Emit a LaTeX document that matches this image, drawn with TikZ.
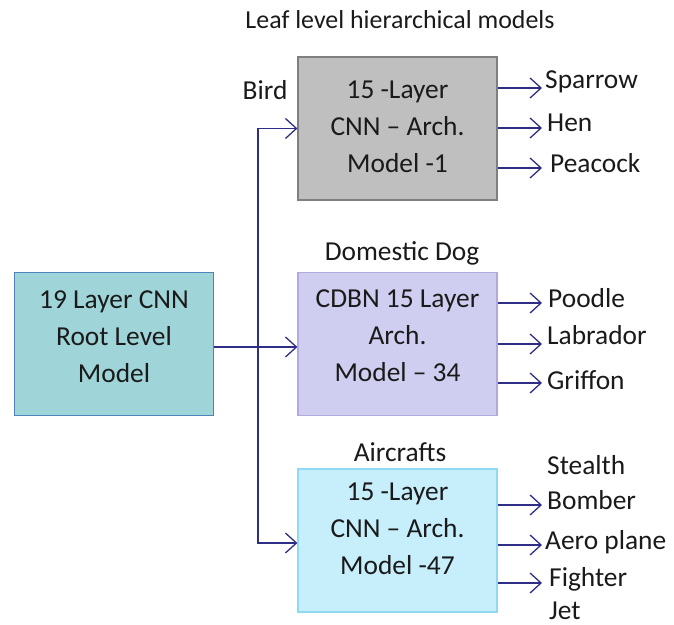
\documentclass[tikz,border=0pt]{standalone}
\usepackage{fontspec}
\setmainfont{Carlito}
\usetikzlibrary{arrows.meta}
\definecolor{navy}{HTML}{2E2E86}
\definecolor{grayfill}{HTML}{BFBFBF}
\definecolor{grayedge}{HTML}{7F7F7F}
\definecolor{lavfill}{HTML}{D0CEF0}
\definecolor{lavedge}{HTML}{B3A8E0}
\definecolor{skyfill}{HTML}{C6EEFB}
\definecolor{skyedge}{HTML}{8FDAF2}
\definecolor{tealfill}{HTML}{9FD4D8}
\definecolor{tealedge}{HTML}{4F81BD}
\definecolor{ink}{HTML}{1A1A1A}
\tikzset{
  modelbox/.style={draw, line width=1.2pt, minimum width=199bp, minimum height=143bp, inner sep=0pt},
  boxtext/.style={text=ink, font=\fontsize{27.5}{37}\selectfont, align=center, inner sep=0pt},
  lbl/.style={text=ink, font=\fontsize{27.5}{33}\selectfont, inner sep=0pt},
  conn/.style={draw=navy, line width=1.3pt, -{Straight Barb[length=11bp, width=20bp, line width=1.3pt]}},
  wire/.style={draw=navy, line width=1.3pt}
}
\begin{document}
\begin{tikzpicture}[x=1bp, y=-1bp]
\useasboundingbox (0,0) rectangle (674,625);
% title
\node[lbl, font=\fontsize{26}{30}\selectfont] (title) at (400,20) {Leaf level hierarchical models};
% boxes
\node[modelbox, fill=tealfill, draw=tealedge] (root) at (114,344) {};
\node[modelbox, fill=grayfill, draw=grayedge] (m1) at (397.5,128.5) {};
\node[modelbox, fill=lavfill, draw=lavedge] (m2) at (397.5,344) {};
\node[modelbox, fill=skyfill, draw=skyedge] (m3) at (397.5,540.5) {};
\node[boxtext] (roott) at (114,337) {19 Layer CNN\\Root Level\\Model};
\node[boxtext] (m1t) at (397.5,127) {15 -Layer\\CNN -- Arch.\\Model -1};
\node[boxtext] (m2t) at (397.5,336) {CDBN 15 Layer\\Arch.\\Model -- 34};
\node[boxtext] (m3t) at (397.5,529) {15 -Layer\\CNN -- Arch.\\Model -47};
% category labels
\node[lbl] (bird) at (265,90) {Bird};
\node[lbl] (dog) at (402,253) {Domestic Dog};
\node[lbl] (air) at (400,452) {Aircrafts};
% leaf labels
\node[lbl, anchor=west] (sparrow) at (545,82) {Sparrow};
\node[lbl, anchor=west] (hen) at (547,123) {Hen};
\node[lbl, anchor=west] (peacock) at (550,163) {Peacock};
\node[lbl, anchor=west] (poodle) at (548,298) {Poodle};
\node[lbl, anchor=west] (labrador) at (547,335) {Labrador};
\node[lbl, anchor=west] (griffon) at (547,380) {Griffon};
\node[lbl, anchor=west, align=left, font=\fontsize{27.5}{35}\selectfont] (stealth) at (547,483) {Stealth\\Bomber};
\node[lbl, anchor=west] (aero) at (545,542) {Aero plane};
\node[lbl, anchor=west, align=left, font=\fontsize{27.5}{33}\selectfont] (fighter) at (549,594) {Fighter\\Jet};
% root connectors
\coordinate (j) at (258,347);
\draw[wire] (root.east |- j) -- (j);
\draw[conn] (j) -- (m2.west |- j);
\draw[conn] (j) |- (m1.west);
\draw[conn] (j) |- ([yshift=-2.5bp]m3.west);
% leaf connectors
\draw[conn] (m1.east |- 0,88) -- ([xshift=-3bp]sparrow.west |- 0,88);
\draw[conn] (m1.east |- 0,128) -- ([xshift=-5bp]hen.west |- 0,128);
\draw[conn] (m1.east |- 0,168) -- ([xshift=-8bp]peacock.west |- 0,168);
\draw[conn] (m2.east |- 0,303) -- ([xshift=-6bp]poodle.west |- 0,303);
\draw[conn] (m2.east |- 0,344) -- ([xshift=-5bp]labrador.west |- 0,344);
\draw[conn] (m2.east |- 0,383) -- ([xshift=-5bp]griffon.west |- 0,383);
\draw[conn] (m3.east |- 0,505) -- ([xshift=-5bp]stealth.west |- 0,505);
\draw[conn] (m3.east |- 0,545) -- ([xshift=-3bp]aero.west |- 0,545);
\draw[conn] (m3.east |- 0,583) -- ([xshift=-7bp]fighter.west |- 0,583);
\end{tikzpicture}
\end{document}
